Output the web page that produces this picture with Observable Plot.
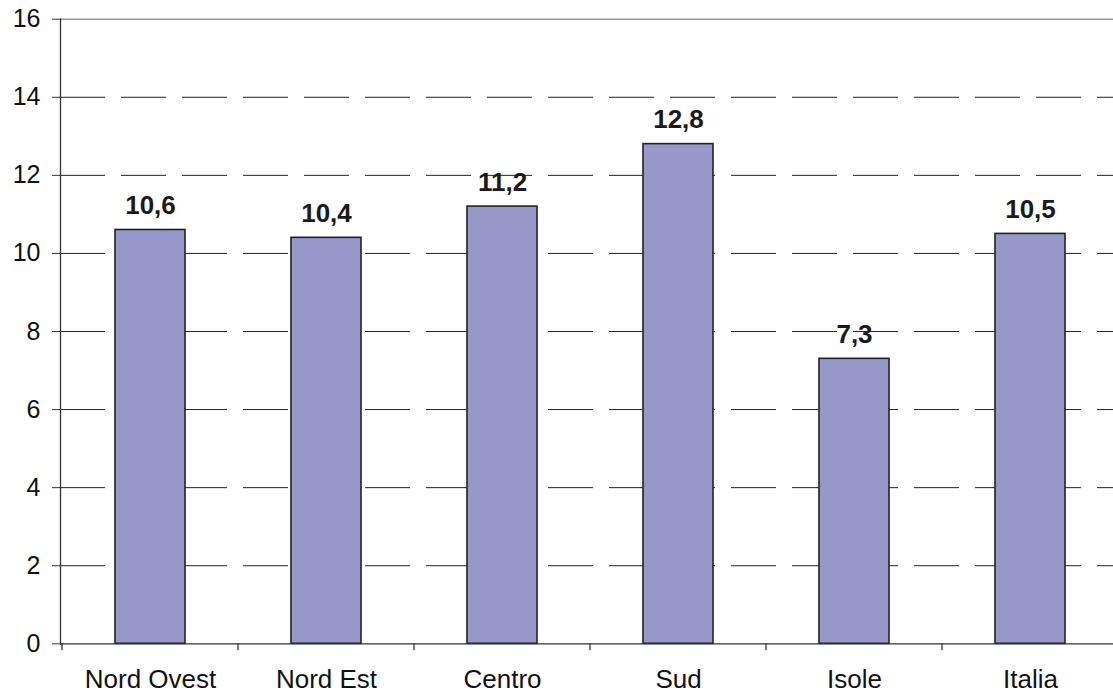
<!DOCTYPE html>
<html>
<head>
<meta charset="utf-8">
<script src="https://cdn.jsdelivr.net/npm/d3@7"></script>
<script src="https://cdn.jsdelivr.net/npm/@observablehq/plot@0.6"></script>
<style>
  html, body { margin: 0; padding: 0; background: #fff; overflow: hidden; }
  #chart svg { display: block; font-family: "Liberation Sans", Arial, sans-serif; }
</style>
</head>
<body>
<div id="chart"></div>
<script>
const categories = ["Nord Ovest", "Nord Est", "Centro", "Sud", "Isole", "Italia"];
const values = [10.6, 10.4, 11.2, 12.8, 7.3, 10.5];
const yTicks = [0, 2, 4, 6, 8, 10, 12, 14, 16];
const gridTicks = [2, 4, 6, 8, 10, 12, 14];

const data = categories.map((c, i) => ({cat: c, value: values[i]}));
const fmt = v => String(v).replace(".", ",");

// boundary ticks between category bands, computed from the x scale
function bandBoundaryTicks(index, scales, channels, dimensions) {
  const x = scales.x;
  const n = categories.length;
  const step = (typeof x.step === "function") ? x.step() : (1120 - dimensions.marginLeft) / n;
  const bw = (typeof x.bandwidth === "function") ? x.bandwidth() : step * 0.4;
  const y0 = scales.y(0);
  const g = d3.create("svg:g").attr("stroke", "#222").attr("stroke-width", 1.2);
  categories.forEach(c => {
    const xb = x(c) - (step - bw) / 2;
    g.append("line").attr("x1", xb).attr("x2", xb).attr("y1", y0).attr("y2", y0 + 7);
  });
  return g.node();
}

const chart = Plot.plot({
  width: 1113,
  height: 693,
  marginLeft: 60,
  marginRight: 0,
  marginTop: 18.7,
  marginBottom: 49.7,
  style: {fontFamily: "Liberation Sans, Arial, sans-serif", color: "#111", background: "#fff"},
  x: {domain: categories, range: [60, 1120], paddingInner: 0.6, paddingOuter: 0.3, label: null},
  y: {domain: [0, 16], label: null},
  marks: [
    Plot.gridY(gridTicks, {stroke: "#222", strokeOpacity: 1, strokeWidth: 1, strokeDasharray: "45,16"}),
    Plot.ruleY([16], {stroke: "#9a9a9a", strokeWidth: 1.5}),
    Plot.barY(data, {x: "cat", y: "value", fill: "#9797c9", stroke: "#222", strokeWidth: 1.6}),
    Plot.text(data, {x: "cat", y: "value", text: d => fmt(d.value), lineAnchor: "bottom", dy: -16,
      fontSize: 26, fontWeight: "bold", fill: "#1a1a1a"}),
    Plot.ruleY([0], {stroke: "#333", strokeWidth: 1.3}),
    Plot.frame({anchor: "left", stroke: "#333", strokeWidth: 1.3}),
    bandBoundaryTicks,
    Plot.axisY(yTicks, {tickSize: 8, tickPadding: 12, fontSize: 25, stroke: "#333", fill: "#111", label: null}),
    Plot.axisX({tickSize: 0, tickPadding: 26, fontSize: 26, fill: "#111", label: null})
  ]
});
document.getElementById("chart").appendChild(chart);
</script>
</body>
</html>
